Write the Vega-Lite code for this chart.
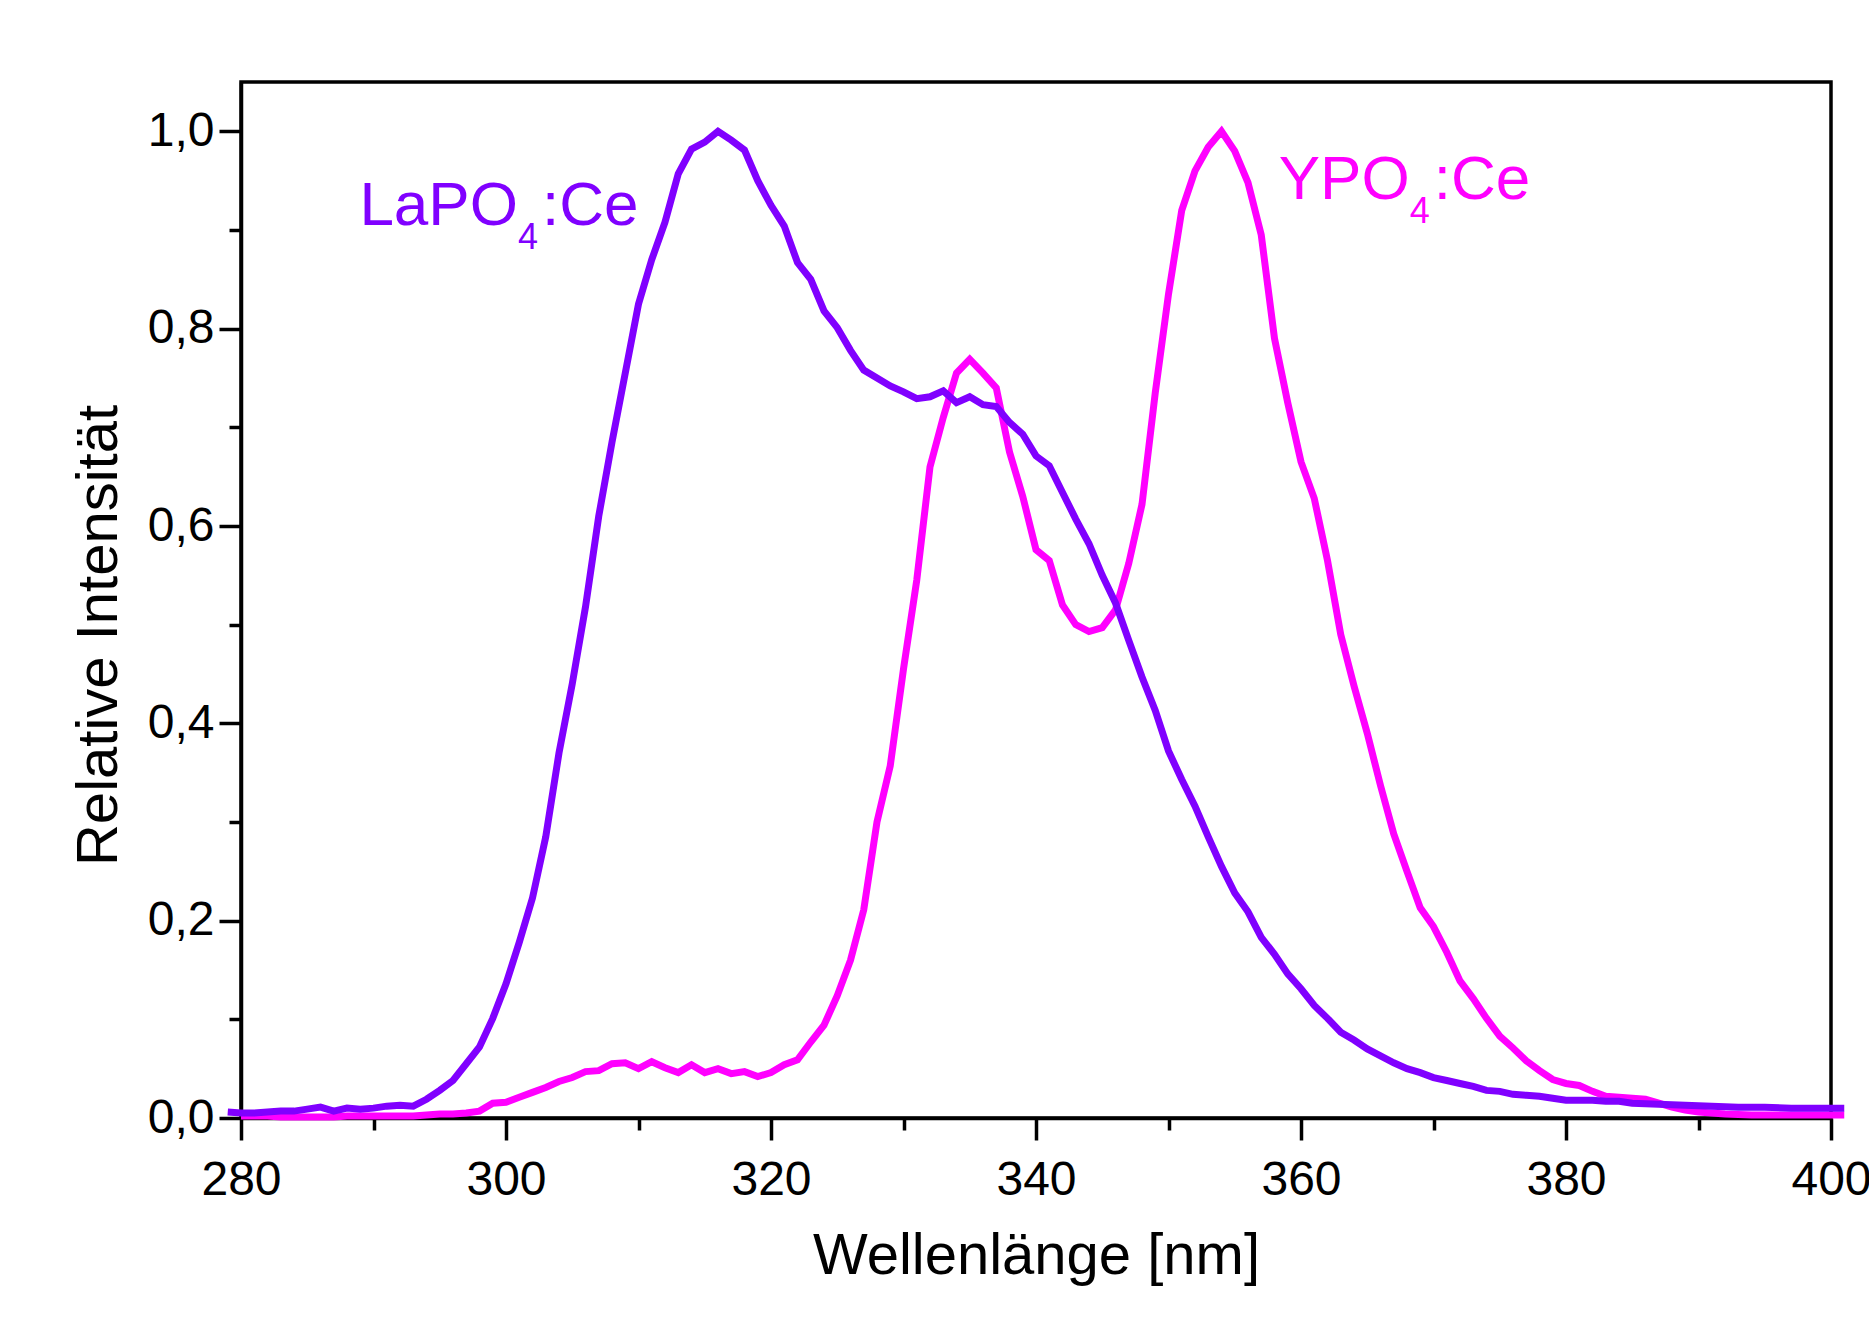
{
  "$schema": "https://vega.github.io/schema/vega-lite/v6.json",
  "width": 1590,
  "height": 1036,
  "autosize": "none",
  "padding": {"left": 241, "top": 82, "right": 38, "bottom": 213},
  "background": "white",
  "config": {
    "font": "Liberation Sans, Arial, sans-serif",
    "view": {"stroke": "black", "strokeWidth": 3.5, "fill": "white"},
    "axis": {"labelFont": "Liberation Sans, Arial, sans-serif", "titleFont": "Liberation Sans, Arial, sans-serif", "grid": false, "domainColor": "black", "tickColor": "black", "labelColor": "black", "titleColor": "black"}
  },
  "datasets": {
    "la": [
      {"nm": 279, "v": 0.006}, {"nm": 280, "v": 0.005}, {"nm": 281, "v": 0.005}, {"nm": 282, "v": 0.006}, {"nm": 283, "v": 0.007},
      {"nm": 284, "v": 0.007}, {"nm": 285, "v": 0.009}, {"nm": 286, "v": 0.011}, {"nm": 287, "v": 0.007}, {"nm": 288, "v": 0.010},
      {"nm": 289, "v": 0.009}, {"nm": 290, "v": 0.010}, {"nm": 291, "v": 0.012}, {"nm": 292, "v": 0.013}, {"nm": 293, "v": 0.012},
      {"nm": 294, "v": 0.019}, {"nm": 295, "v": 0.028}, {"nm": 296, "v": 0.038}, {"nm": 297, "v": 0.055}, {"nm": 298, "v": 0.072},
      {"nm": 299, "v": 0.101}, {"nm": 300, "v": 0.136}, {"nm": 301, "v": 0.178}, {"nm": 302, "v": 0.223}, {"nm": 303, "v": 0.285},
      {"nm": 304, "v": 0.37}, {"nm": 305, "v": 0.44}, {"nm": 306, "v": 0.518}, {"nm": 307, "v": 0.61}, {"nm": 308, "v": 0.685},
      {"nm": 309, "v": 0.755}, {"nm": 310, "v": 0.825}, {"nm": 311, "v": 0.87}, {"nm": 312, "v": 0.908}, {"nm": 313, "v": 0.957},
      {"nm": 314, "v": 0.982}, {"nm": 315, "v": 0.989}, {"nm": 316, "v": 1.0}, {"nm": 317, "v": 0.991}, {"nm": 318, "v": 0.981},
      {"nm": 319, "v": 0.95}, {"nm": 320, "v": 0.925}, {"nm": 321, "v": 0.904}, {"nm": 322, "v": 0.867}, {"nm": 323, "v": 0.85},
      {"nm": 324, "v": 0.818}, {"nm": 325, "v": 0.801}, {"nm": 326, "v": 0.778}, {"nm": 327, "v": 0.758}, {"nm": 328, "v": 0.75},
      {"nm": 329, "v": 0.742}, {"nm": 330, "v": 0.736}, {"nm": 331, "v": 0.729}, {"nm": 332, "v": 0.731}, {"nm": 333, "v": 0.737},
      {"nm": 334, "v": 0.725}, {"nm": 335, "v": 0.731}, {"nm": 336, "v": 0.723}, {"nm": 337, "v": 0.721}, {"nm": 338, "v": 0.705},
      {"nm": 339, "v": 0.693}, {"nm": 340, "v": 0.671}, {"nm": 341, "v": 0.661}, {"nm": 342, "v": 0.634}, {"nm": 343, "v": 0.607},
      {"nm": 344, "v": 0.582}, {"nm": 345, "v": 0.55}, {"nm": 346, "v": 0.522}, {"nm": 347, "v": 0.484}, {"nm": 348, "v": 0.447},
      {"nm": 349, "v": 0.413}, {"nm": 350, "v": 0.372}, {"nm": 351, "v": 0.343}, {"nm": 352, "v": 0.316}, {"nm": 353, "v": 0.285},
      {"nm": 354, "v": 0.255}, {"nm": 355, "v": 0.228}, {"nm": 356, "v": 0.209}, {"nm": 357, "v": 0.183}, {"nm": 358, "v": 0.166},
      {"nm": 359, "v": 0.146}, {"nm": 360, "v": 0.131}, {"nm": 361, "v": 0.114}, {"nm": 362, "v": 0.101}, {"nm": 363, "v": 0.087},
      {"nm": 364, "v": 0.079}, {"nm": 365, "v": 0.07}, {"nm": 366, "v": 0.063}, {"nm": 367, "v": 0.056}, {"nm": 368, "v": 0.05},
      {"nm": 369, "v": 0.046}, {"nm": 370, "v": 0.041}, {"nm": 371, "v": 0.038}, {"nm": 372, "v": 0.035}, {"nm": 373, "v": 0.032},
      {"nm": 374, "v": 0.028}, {"nm": 375, "v": 0.027}, {"nm": 376, "v": 0.024}, {"nm": 377, "v": 0.023}, {"nm": 378, "v": 0.022},
      {"nm": 379, "v": 0.02}, {"nm": 380, "v": 0.018}, {"nm": 381, "v": 0.018}, {"nm": 382, "v": 0.018}, {"nm": 383, "v": 0.017},
      {"nm": 384, "v": 0.017}, {"nm": 385, "v": 0.015}, {"nm": 387, "v": 0.014}, {"nm": 389, "v": 0.013}, {"nm": 391, "v": 0.012},
      {"nm": 393, "v": 0.011}, {"nm": 395, "v": 0.011}, {"nm": 397, "v": 0.01}, {"nm": 399, "v": 0.01}, {"nm": 401, "v": 0.01}
    ],
    "y": [
      {"nm": 280, "v": 0.002}, {"nm": 281, "v": 0.002}, {"nm": 282, "v": 0.002}, {"nm": 283, "v": 0.001}, {"nm": 284, "v": 0.001},
      {"nm": 285, "v": 0.001}, {"nm": 286, "v": 0.001}, {"nm": 287, "v": 0.001}, {"nm": 288, "v": 0.002}, {"nm": 289, "v": 0.002},
      {"nm": 290, "v": 0.002}, {"nm": 291, "v": 0.002}, {"nm": 292, "v": 0.002}, {"nm": 293, "v": 0.002}, {"nm": 294, "v": 0.003},
      {"nm": 295, "v": 0.004}, {"nm": 296, "v": 0.004}, {"nm": 297, "v": 0.005}, {"nm": 298, "v": 0.007}, {"nm": 299, "v": 0.015},
      {"nm": 300, "v": 0.016}, {"nm": 301, "v": 0.021}, {"nm": 302, "v": 0.026}, {"nm": 303, "v": 0.031}, {"nm": 304, "v": 0.037},
      {"nm": 305, "v": 0.041}, {"nm": 306, "v": 0.047}, {"nm": 307, "v": 0.048}, {"nm": 308, "v": 0.055}, {"nm": 309, "v": 0.056},
      {"nm": 310, "v": 0.05}, {"nm": 311, "v": 0.057}, {"nm": 312, "v": 0.051}, {"nm": 313, "v": 0.046}, {"nm": 314, "v": 0.054},
      {"nm": 315, "v": 0.046}, {"nm": 316, "v": 0.05}, {"nm": 317, "v": 0.045}, {"nm": 318, "v": 0.047}, {"nm": 319, "v": 0.042},
      {"nm": 320, "v": 0.046}, {"nm": 321, "v": 0.054}, {"nm": 322, "v": 0.059}, {"nm": 323, "v": 0.077}, {"nm": 324, "v": 0.094},
      {"nm": 325, "v": 0.124}, {"nm": 326, "v": 0.16}, {"nm": 327, "v": 0.211}, {"nm": 328, "v": 0.3}, {"nm": 329, "v": 0.357},
      {"nm": 330, "v": 0.455}, {"nm": 331, "v": 0.545}, {"nm": 332, "v": 0.66}, {"nm": 333, "v": 0.71}, {"nm": 334, "v": 0.755},
      {"nm": 335, "v": 0.769}, {"nm": 336, "v": 0.755}, {"nm": 337, "v": 0.74}, {"nm": 338, "v": 0.675}, {"nm": 339, "v": 0.63},
      {"nm": 340, "v": 0.576}, {"nm": 341, "v": 0.565}, {"nm": 342, "v": 0.52}, {"nm": 343, "v": 0.5}, {"nm": 344, "v": 0.493},
      {"nm": 345, "v": 0.497}, {"nm": 346, "v": 0.515}, {"nm": 347, "v": 0.562}, {"nm": 348, "v": 0.622}, {"nm": 349, "v": 0.735},
      {"nm": 350, "v": 0.835}, {"nm": 351, "v": 0.92}, {"nm": 352, "v": 0.96}, {"nm": 353, "v": 0.984}, {"nm": 354, "v": 1.0},
      {"nm": 355, "v": 0.98}, {"nm": 356, "v": 0.948}, {"nm": 357, "v": 0.895}, {"nm": 358, "v": 0.79}, {"nm": 359, "v": 0.725},
      {"nm": 360, "v": 0.665}, {"nm": 361, "v": 0.628}, {"nm": 362, "v": 0.565}, {"nm": 363, "v": 0.49}, {"nm": 364, "v": 0.438},
      {"nm": 365, "v": 0.39}, {"nm": 366, "v": 0.337}, {"nm": 367, "v": 0.288}, {"nm": 368, "v": 0.25}, {"nm": 369, "v": 0.213},
      {"nm": 370, "v": 0.194}, {"nm": 371, "v": 0.168}, {"nm": 372, "v": 0.139}, {"nm": 373, "v": 0.121}, {"nm": 374, "v": 0.101},
      {"nm": 375, "v": 0.083}, {"nm": 376, "v": 0.071}, {"nm": 377, "v": 0.058}, {"nm": 378, "v": 0.048}, {"nm": 379, "v": 0.039},
      {"nm": 380, "v": 0.035}, {"nm": 381, "v": 0.033}, {"nm": 382, "v": 0.027}, {"nm": 383, "v": 0.022}, {"nm": 384, "v": 0.021},
      {"nm": 385, "v": 0.02}, {"nm": 386, "v": 0.019}, {"nm": 387, "v": 0.015}, {"nm": 388, "v": 0.011}, {"nm": 389, "v": 0.008},
      {"nm": 390, "v": 0.006}, {"nm": 392, "v": 0.004}, {"nm": 394, "v": 0.003}, {"nm": 396, "v": 0.003}, {"nm": 398, "v": 0.003},
      {"nm": 400, "v": 0.003}, {"nm": 401, "v": 0.003}
    ],
    "labels": [
      {"nm": 300.9, "v": 0.905, "main": "LaPO", "sub": "4", "rest": ":Ce", "sample": "La"},
      {"nm": 368.2, "v": 0.931, "main": "YPO", "sub": "4", "rest": ":Ce", "sample": "Y"}
    ]
  },
  "resolve": {"axis": {"x": "independent", "y": "independent"}},
  "layer": [
    {
      "data": {"name": "y"},
      "mark": {"type": "line", "color": "#FF00FF", "strokeWidth": 7, "clip": false, "strokeJoin": "miter"},
      "encoding": {
        "x": {"field": "nm", "type": "quantitative", "scale": {"domain": [280, 400], "nice": false, "zero": false},
          "axis": {"orient": "bottom", "values": [280, 300, 320, 340, 360, 380, 400], "format": "d", "tickSize": 22, "tickWidth": 3.5, "domainWidth": 3.5,
            "labelFontSize": 48, "labelPadding": 16, "labelFlush": false, "labelOverlap": false,
            "title": "Wellenlänge [nm]", "titleFontSize": 58, "titleFontWeight": "normal", "titleBaseline": "alphabetic", "titleY": 155}},
        "y": {"field": "v", "type": "quantitative", "scale": {"domain": [0, 1.05], "nice": false, "zero": false},
          "axis": {"orient": "left", "values": [0, 0.2, 0.4, 0.6, 0.8, 1.0], "labelExpr": "replace(format(datum.value, '.1f'), '.', ',')", "tickSize": 22, "tickWidth": 3.5, "domainWidth": 3.5,
            "labelFontSize": 48, "labelPadding": 5, "labelFlush": false, "labelOverlap": false,
            "title": "Relative Intensität", "titleFontSize": 58, "titleFontWeight": "normal", "titleAngle": 270, "titleAlign": "center", "titleBaseline": "alphabetic", "titleX": -125, "titleY": 553}}
      }
    },
    {
      "data": {"name": "la"},
      "mark": {"type": "line", "color": "#8000FF", "strokeWidth": 7, "clip": false, "strokeJoin": "miter"},
      "encoding": {
        "x": {"field": "nm", "type": "quantitative",
          "axis": {"orient": "bottom", "values": [290, 310, 330, 350, 370, 390], "labels": false, "domain": false, "tickSize": 12, "tickWidth": 3.5, "title": null}},
        "y": {"field": "v", "type": "quantitative",
          "axis": {"orient": "left", "values": [0.1, 0.3, 0.5, 0.7, 0.9], "labels": false, "domain": false, "tickSize": 12, "tickWidth": 3.5, "title": null}}
      }
    },
    {
      "data": {"name": "labels"},
      "mark": {"type": "text", "align": "right", "baseline": "alphabetic", "fontSize": 62, "font": "Liberation Sans, Arial, sans-serif"},
      "encoding": {
        "x": {"field": "nm", "type": "quantitative", "axis": null},
        "y": {"field": "v", "type": "quantitative", "axis": null},
        "text": {"field": "main"},
        "color": {"field": "sample", "type": "nominal", "scale": {"domain": ["La", "Y"], "range": ["#8000FF", "#FF00FF"]}, "legend": null}
      }
    },
    {
      "data": {"name": "labels"},
      "mark": {"type": "text", "align": "left", "baseline": "alphabetic", "fontSize": 36, "dx": 0, "dy": 24, "font": "Liberation Sans, Arial, sans-serif"},
      "encoding": {
        "x": {"field": "nm", "type": "quantitative", "axis": null},
        "y": {"field": "v", "type": "quantitative", "axis": null},
        "text": {"field": "sub"},
        "color": {"field": "sample", "type": "nominal", "legend": null}
      }
    },
    {
      "data": {"name": "labels"},
      "mark": {"type": "text", "align": "left", "baseline": "alphabetic", "fontSize": 62, "dx": 24, "font": "Liberation Sans, Arial, sans-serif"},
      "encoding": {
        "x": {"field": "nm", "type": "quantitative", "axis": null},
        "y": {"field": "v", "type": "quantitative", "axis": null},
        "text": {"field": "rest"},
        "color": {"field": "sample", "type": "nominal", "legend": null}
      }
    }
  ]
}
